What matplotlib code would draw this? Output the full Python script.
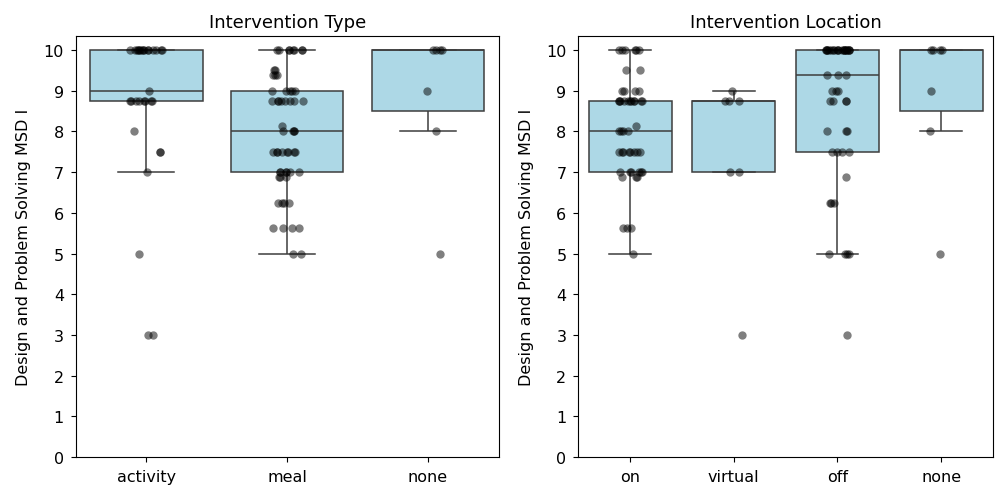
import numpy as np
import pandas as pd
import matplotlib
matplotlib.use("Agg")
from matplotlib import pyplot as plt
import seaborn as sns

# scores: value -> how many points sit there
activity_vals = [3, 5, 7, 7.5, 8, 8.75, 9, 10]
activity_counts = [2, 1, 1, 2, 1, 8, 1, 15]

meal_vals = [5, 5.625, 6.25, 6.875, 7, 7.5, 8, 8.125, 8.75, 9, 9.375, 9.5, 10]
meal_counts = [2, 4, 4, 3, 6, 8, 4, 1, 8, 5, 3, 2, 8]

none_vals = [5, 8, 9, 10]
none_counts = [1, 1, 1, 4]

on_vals = [5, 5.625, 6.875, 7, 7.5, 8, 8.125, 8.75, 9, 9.5, 10]
on_counts = [1, 3, 3, 6, 8, 4, 1, 11, 4, 2, 6]

virtual_vals = [3, 7, 8.75, 9]
virtual_counts = [1, 2, 3, 1]

off_vals = [3, 5, 6.25, 6.875, 7.5, 8, 8.75, 9, 9.375, 10]
off_counts = [1, 4, 3, 1, 4, 3, 4, 3, 3, 21]

type_order = ["activity", "meal", "none"]
location_order = ["on", "virtual", "off", "none"]
ylabel = "Design and Problem Solving MSD I"


def build(groups):
    rows = []
    for name, vals, counts in groups:
        for v in np.repeat(vals, counts):
            rows.append((name, v))
    return pd.DataFrame(rows, columns=["group", "score"])


df_type = build([("activity", activity_vals, activity_counts),
                 ("meal", meal_vals, meal_counts),
                 ("none", none_vals, none_counts)])
df_loc = build([("on", on_vals, on_counts),
                ("virtual", virtual_vals, virtual_counts),
                ("off", off_vals, off_counts),
                ("none", none_vals, none_counts)])

np.random.seed(3)
fig = plt.figure(figsize=(9.97, 4.89), dpi=100)
ax1 = fig.add_axes([0.076, 0.063, 0.424, 0.862])
ax2 = fig.add_axes([0.580, 0.063, 0.416, 0.862])

for ax, df, order, title in [(ax1, df_type, type_order, "Intervention Type"),
                             (ax2, df_loc, location_order, "Intervention Location")]:
    sns.boxplot(data=df, x="group", y="score", order=order, color="lightblue",
                saturation=1, linecolor="#3d3d3d", linewidth=1.1,
                showfliers=False, ax=ax)
    sns.stripplot(data=df, x="group", y="score", order=order, color="black",
                  alpha=0.5, size=6, jitter=0.12, ax=ax)
    ax.set_title(title, fontsize=13)
    ax.set_xlabel("")
    ax.set_ylabel(ylabel, fontsize=11.5, labelpad=9)
    ax.set_ylim(0, 10.35)
    ax.set_yticks(range(0, 11))
    ax.tick_params(labelsize=11.5, pad=5)

fig.savefig("out.png", dpi=100)
